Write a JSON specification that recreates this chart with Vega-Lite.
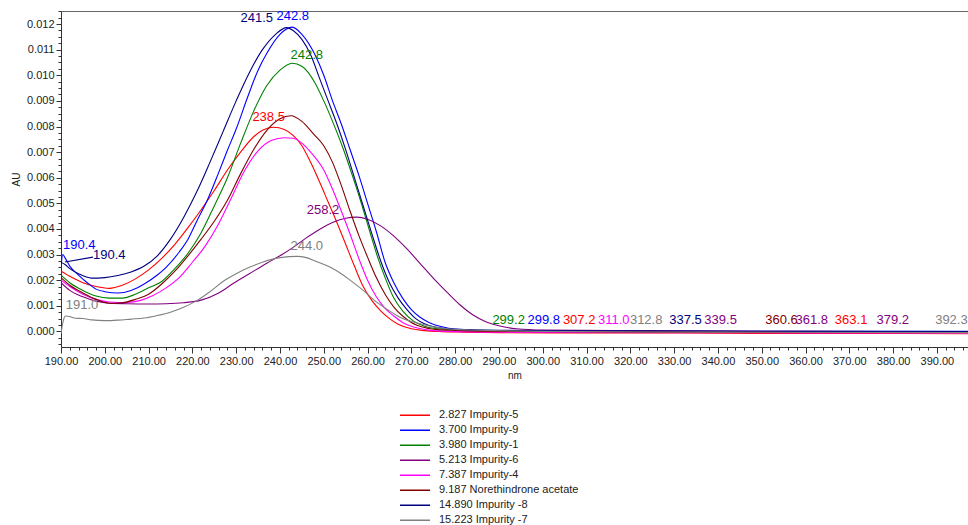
{
  "$schema": "https://vega.github.io/schema/vega-lite/v6.json",
  "width": 907,
  "height": 336,
  "autosize": {"type": "none"},
  "padding": {"left": 61, "top": 11, "right": 0, "bottom": 178},
  "background": "white",
  "config": {
    "view": {"stroke": null},
    "font": "Liberation Sans",
    "axis": {"labelFont": "Liberation Sans", "labelFontSize": 11, "labelColor": "#222", "tickColor": "#333", "domainColor": "#333", "titleFont": "Liberation Sans", "titleFontWeight": "normal", "titleFontSize": 10, "titleColor": "#222", "grid": false}
  },
  "datasets": {
    "spectra": [
      {"s":"2.827 Impurity-5","x":190,"y":0.00235},{"s":"2.827 Impurity-5","x":192,"y":0.00215},{"s":"2.827 Impurity-5","x":195,"y":0.0019},{"s":"2.827 Impurity-5","x":198,"y":0.00175},{"s":"2.827 Impurity-5","x":201,"y":0.00168},{"s":"2.827 Impurity-5","x":204,"y":0.0018},{"s":"2.827 Impurity-5","x":207,"y":0.00205},{"s":"2.827 Impurity-5","x":210,"y":0.0024},{"s":"2.827 Impurity-5","x":213,"y":0.00285},{"s":"2.827 Impurity-5","x":216,"y":0.0034},{"s":"2.827 Impurity-5","x":219,"y":0.00405},{"s":"2.827 Impurity-5","x":222,"y":0.00475},{"s":"2.827 Impurity-5","x":225,"y":0.0055},{"s":"2.827 Impurity-5","x":228,"y":0.0063},{"s":"2.827 Impurity-5","x":231,"y":0.007},{"s":"2.827 Impurity-5","x":234,"y":0.0076},{"s":"2.827 Impurity-5","x":236,"y":0.00785},{"s":"2.827 Impurity-5","x":238.5,"y":0.00797},{"s":"2.827 Impurity-5","x":241,"y":0.00788},{"s":"2.827 Impurity-5","x":243,"y":0.00765},{"s":"2.827 Impurity-5","x":245,"y":0.00725},{"s":"2.827 Impurity-5","x":247,"y":0.0066},{"s":"2.827 Impurity-5","x":249,"y":0.00585},{"s":"2.827 Impurity-5","x":251,"y":0.00505},{"s":"2.827 Impurity-5","x":253,"y":0.00425},{"s":"2.827 Impurity-5","x":255,"y":0.0034},{"s":"2.827 Impurity-5","x":257,"y":0.00255},{"s":"2.827 Impurity-5","x":259,"y":0.00175},{"s":"2.827 Impurity-5","x":261,"y":0.0012},{"s":"2.827 Impurity-5","x":263,"y":0.0008},{"s":"2.827 Impurity-5","x":265,"y":0.0005},{"s":"2.827 Impurity-5","x":267,"y":0.00028},{"s":"2.827 Impurity-5","x":270,"y":0.0001},{"s":"2.827 Impurity-5","x":273,"y":0.00003},{"s":"2.827 Impurity-5","x":277,"y":-0.00001},{"s":"2.827 Impurity-5","x":282,"y":-0.00003},{"s":"2.827 Impurity-5","x":290,"y":-0.00005},{"s":"2.827 Impurity-5","x":310,"y":-0.00006},{"s":"2.827 Impurity-5","x":330,"y":-0.00006},{"s":"2.827 Impurity-5","x":350,"y":-0.00008},{"s":"2.827 Impurity-5","x":370,"y":-0.00008},{"s":"2.827 Impurity-5","x":397.1,"y":-0.00009},
      {"s":"3.700 Impurity-9","x":190,"y":0.0025},{"s":"3.700 Impurity-9","x":190.4,"y":0.003},{"s":"3.700 Impurity-9","x":191,"y":0.00285},{"s":"3.700 Impurity-9","x":192,"y":0.00255},{"s":"3.700 Impurity-9","x":194,"y":0.0022},{"s":"3.700 Impurity-9","x":196,"y":0.0019},{"s":"3.700 Impurity-9","x":198,"y":0.00165},{"s":"3.700 Impurity-9","x":200,"y":0.00155},{"s":"3.700 Impurity-9","x":203,"y":0.0015},{"s":"3.700 Impurity-9","x":206,"y":0.0016},{"s":"3.700 Impurity-9","x":209,"y":0.00185},{"s":"3.700 Impurity-9","x":212,"y":0.0022},{"s":"3.700 Impurity-9","x":214,"y":0.0025},{"s":"3.700 Impurity-9","x":217,"y":0.0031},{"s":"3.700 Impurity-9","x":219,"y":0.0036},{"s":"3.700 Impurity-9","x":221,"y":0.0043},{"s":"3.700 Impurity-9","x":223.4,"y":0.00512},{"s":"3.700 Impurity-9","x":226,"y":0.0062},{"s":"3.700 Impurity-9","x":228,"y":0.00707},{"s":"3.700 Impurity-9","x":230,"y":0.0079},{"s":"3.700 Impurity-9","x":232.6,"y":0.00914},{"s":"3.700 Impurity-9","x":235,"y":0.0102},{"s":"3.700 Impurity-9","x":237,"y":0.01086},{"s":"3.700 Impurity-9","x":240,"y":0.0116},{"s":"3.700 Impurity-9","x":242.8,"y":0.01188},{"s":"3.700 Impurity-9","x":245,"y":0.0116},{"s":"3.700 Impurity-9","x":248,"y":0.0108},{"s":"3.700 Impurity-9","x":250,"y":0.01},{"s":"3.700 Impurity-9","x":252,"y":0.009},{"s":"3.700 Impurity-9","x":254,"y":0.0081},{"s":"3.700 Impurity-9","x":256,"y":0.0071},{"s":"3.700 Impurity-9","x":258,"y":0.0061},{"s":"3.700 Impurity-9","x":260,"y":0.005},{"s":"3.700 Impurity-9","x":262,"y":0.0039},{"s":"3.700 Impurity-9","x":264,"y":0.0027},{"s":"3.700 Impurity-9","x":266,"y":0.0019},{"s":"3.700 Impurity-9","x":268,"y":0.0013},{"s":"3.700 Impurity-9","x":270,"y":0.00085},{"s":"3.700 Impurity-9","x":272,"y":0.00055},{"s":"3.700 Impurity-9","x":274,"y":0.00035},{"s":"3.700 Impurity-9","x":277,"y":0.00018},{"s":"3.700 Impurity-9","x":280,"y":0.00009},{"s":"3.700 Impurity-9","x":285,"y":0.00005},{"s":"3.700 Impurity-9","x":300,"y":0.00002},{"s":"3.700 Impurity-9","x":330,"y":0.00001},{"s":"3.700 Impurity-9","x":360,"y":0},{"s":"3.700 Impurity-9","x":397.1,"y":0},
      {"s":"3.980 Impurity-1","x":190,"y":0.0022},{"s":"3.980 Impurity-1","x":192,"y":0.0019},{"s":"3.980 Impurity-1","x":195,"y":0.0016},{"s":"3.980 Impurity-1","x":198,"y":0.00138},{"s":"3.980 Impurity-1","x":201,"y":0.0013},{"s":"3.980 Impurity-1","x":204,"y":0.0013},{"s":"3.980 Impurity-1","x":207,"y":0.00145},{"s":"3.980 Impurity-1","x":210,"y":0.0017},{"s":"3.980 Impurity-1","x":213,"y":0.00195},{"s":"3.980 Impurity-1","x":216,"y":0.00245},{"s":"3.980 Impurity-1","x":219,"y":0.00305},{"s":"3.980 Impurity-1","x":222,"y":0.00385},{"s":"3.980 Impurity-1","x":225,"y":0.0049},{"s":"3.980 Impurity-1","x":228,"y":0.006},{"s":"3.980 Impurity-1","x":231,"y":0.00734},{"s":"3.980 Impurity-1","x":234,"y":0.0086},{"s":"3.980 Impurity-1","x":237,"y":0.0096},{"s":"3.980 Impurity-1","x":240,"y":0.0102},{"s":"3.980 Impurity-1","x":242.8,"y":0.01047},{"s":"3.980 Impurity-1","x":245,"y":0.01035},{"s":"3.980 Impurity-1","x":248,"y":0.0097},{"s":"3.980 Impurity-1","x":250,"y":0.009},{"s":"3.980 Impurity-1","x":252,"y":0.0082},{"s":"3.980 Impurity-1","x":254.5,"y":0.0071},{"s":"3.980 Impurity-1","x":256.5,"y":0.0061},{"s":"3.980 Impurity-1","x":258.4,"y":0.0051},{"s":"3.980 Impurity-1","x":260.5,"y":0.0039},{"s":"3.980 Impurity-1","x":262.3,"y":0.0029},{"s":"3.980 Impurity-1","x":264,"y":0.0021},{"s":"3.980 Impurity-1","x":266,"y":0.0013},{"s":"3.980 Impurity-1","x":268,"y":0.0008},{"s":"3.980 Impurity-1","x":270.5,"y":0.0004},{"s":"3.980 Impurity-1","x":273,"y":0.0002},{"s":"3.980 Impurity-1","x":276,"y":0.0001},{"s":"3.980 Impurity-1","x":280,"y":0.00006},{"s":"3.980 Impurity-1","x":290,"y":0.00003},{"s":"3.980 Impurity-1","x":300,"y":0},{"s":"3.980 Impurity-1","x":340,"y":-0.00001},{"s":"3.980 Impurity-1","x":397.1,"y":-0.00002},
      {"s":"5.213 Impurity-6","x":190,"y":0.0019},{"s":"5.213 Impurity-6","x":192,"y":0.0016},{"s":"5.213 Impurity-6","x":195,"y":0.00135},{"s":"5.213 Impurity-6","x":198,"y":0.00118},{"s":"5.213 Impurity-6","x":201,"y":0.0011},{"s":"5.213 Impurity-6","x":205,"y":0.00108},{"s":"5.213 Impurity-6","x":210,"y":0.00107},{"s":"5.213 Impurity-6","x":214,"y":0.00108},{"s":"5.213 Impurity-6","x":218,"y":0.00112},{"s":"5.213 Impurity-6","x":222,"y":0.00122},{"s":"5.213 Impurity-6","x":226,"y":0.0015},{"s":"5.213 Impurity-6","x":229.4,"y":0.00188},{"s":"5.213 Impurity-6","x":233,"y":0.00225},{"s":"5.213 Impurity-6","x":237,"y":0.00266},{"s":"5.213 Impurity-6","x":240,"y":0.00295},{"s":"5.213 Impurity-6","x":243,"y":0.00328},{"s":"5.213 Impurity-6","x":246,"y":0.00365},{"s":"5.213 Impurity-6","x":249,"y":0.00398},{"s":"5.213 Impurity-6","x":252,"y":0.00425},{"s":"5.213 Impurity-6","x":255,"y":0.00442},{"s":"5.213 Impurity-6","x":257.5,"y":0.00446},{"s":"5.213 Impurity-6","x":260,"y":0.00438},{"s":"5.213 Impurity-6","x":263,"y":0.00412},{"s":"5.213 Impurity-6","x":266,"y":0.00372},{"s":"5.213 Impurity-6","x":269,"y":0.00322},{"s":"5.213 Impurity-6","x":272,"y":0.00265},{"s":"5.213 Impurity-6","x":275,"y":0.00208},{"s":"5.213 Impurity-6","x":278,"y":0.00155},{"s":"5.213 Impurity-6","x":281,"y":0.00105},{"s":"5.213 Impurity-6","x":284,"y":0.00065},{"s":"5.213 Impurity-6","x":287,"y":0.00038},{"s":"5.213 Impurity-6","x":290,"y":0.00022},{"s":"5.213 Impurity-6","x":294,"y":0.0001},{"s":"5.213 Impurity-6","x":300,"y":0.00005},{"s":"5.213 Impurity-6","x":330,"y":0.00002},{"s":"5.213 Impurity-6","x":360,"y":0},{"s":"5.213 Impurity-6","x":397.1,"y":-0.00002},
      {"s":"7.387 Impurity-4","x":190,"y":0.002},{"s":"7.387 Impurity-4","x":192,"y":0.00175},{"s":"7.387 Impurity-4","x":195,"y":0.00145},{"s":"7.387 Impurity-4","x":198,"y":0.00125},{"s":"7.387 Impurity-4","x":201,"y":0.00115},{"s":"7.387 Impurity-4","x":205,"y":0.00113},{"s":"7.387 Impurity-4","x":208,"y":0.0012},{"s":"7.387 Impurity-4","x":211,"y":0.0014},{"s":"7.387 Impurity-4","x":214,"y":0.0017},{"s":"7.387 Impurity-4","x":217,"y":0.0021},{"s":"7.387 Impurity-4","x":220,"y":0.0027},{"s":"7.387 Impurity-4","x":223,"y":0.00335},{"s":"7.387 Impurity-4","x":226,"y":0.0042},{"s":"7.387 Impurity-4","x":229,"y":0.00525},{"s":"7.387 Impurity-4","x":232,"y":0.0063},{"s":"7.387 Impurity-4","x":235,"y":0.00705},{"s":"7.387 Impurity-4","x":238,"y":0.00745},{"s":"7.387 Impurity-4","x":241,"y":0.00756},{"s":"7.387 Impurity-4","x":243,"y":0.00754},{"s":"7.387 Impurity-4","x":245,"y":0.00735},{"s":"7.387 Impurity-4","x":247,"y":0.007},{"s":"7.387 Impurity-4","x":250,"y":0.0063},{"s":"7.387 Impurity-4","x":252,"y":0.00555},{"s":"7.387 Impurity-4","x":254,"y":0.0047},{"s":"7.387 Impurity-4","x":256,"y":0.0038},{"s":"7.387 Impurity-4","x":258,"y":0.00285},{"s":"7.387 Impurity-4","x":260,"y":0.002},{"s":"7.387 Impurity-4","x":262,"y":0.00135},{"s":"7.387 Impurity-4","x":264,"y":0.0009},{"s":"7.387 Impurity-4","x":266,"y":0.0006},{"s":"7.387 Impurity-4","x":268,"y":0.00035},{"s":"7.387 Impurity-4","x":271,"y":0.00015},{"s":"7.387 Impurity-4","x":274,"y":0.00005},{"s":"7.387 Impurity-4","x":278,"y":0},{"s":"7.387 Impurity-4","x":290,"y":-0.00003},{"s":"7.387 Impurity-4","x":330,"y":-0.00005},{"s":"7.387 Impurity-4","x":397.1,"y":-0.00006},
      {"s":"9.187 Norethindrone acetate","x":190,"y":0.0021},{"s":"9.187 Norethindrone acetate","x":192,"y":0.0018},{"s":"9.187 Norethindrone acetate","x":195,"y":0.0015},{"s":"9.187 Norethindrone acetate","x":198,"y":0.00125},{"s":"9.187 Norethindrone acetate","x":201,"y":0.0011},{"s":"9.187 Norethindrone acetate","x":204,"y":0.00112},{"s":"9.187 Norethindrone acetate","x":207,"y":0.00125},{"s":"9.187 Norethindrone acetate","x":210,"y":0.00145},{"s":"9.187 Norethindrone acetate","x":213,"y":0.00185},{"s":"9.187 Norethindrone acetate","x":216,"y":0.00235},{"s":"9.187 Norethindrone acetate","x":219,"y":0.00295},{"s":"9.187 Norethindrone acetate","x":222,"y":0.0036},{"s":"9.187 Norethindrone acetate","x":225,"y":0.0043},{"s":"9.187 Norethindrone acetate","x":228,"y":0.00512},{"s":"9.187 Norethindrone acetate","x":231,"y":0.00615},{"s":"9.187 Norethindrone acetate","x":234,"y":0.0071},{"s":"9.187 Norethindrone acetate","x":237,"y":0.00785},{"s":"9.187 Norethindrone acetate","x":240,"y":0.0083},{"s":"9.187 Norethindrone acetate","x":242.5,"y":0.00842},{"s":"9.187 Norethindrone acetate","x":245,"y":0.0082},{"s":"9.187 Norethindrone acetate","x":247.7,"y":0.0077},{"s":"9.187 Norethindrone acetate","x":250,"y":0.00725},{"s":"9.187 Norethindrone acetate","x":252,"y":0.0066},{"s":"9.187 Norethindrone acetate","x":254,"y":0.0057},{"s":"9.187 Norethindrone acetate","x":256,"y":0.0047},{"s":"9.187 Norethindrone acetate","x":258,"y":0.00375},{"s":"9.187 Norethindrone acetate","x":260,"y":0.0029},{"s":"9.187 Norethindrone acetate","x":262,"y":0.0021},{"s":"9.187 Norethindrone acetate","x":264,"y":0.00145},{"s":"9.187 Norethindrone acetate","x":266,"y":0.00095},{"s":"9.187 Norethindrone acetate","x":268,"y":0.0006},{"s":"9.187 Norethindrone acetate","x":270,"y":0.00035},{"s":"9.187 Norethindrone acetate","x":273,"y":0.00015},{"s":"9.187 Norethindrone acetate","x":276,"y":0.00007},{"s":"9.187 Norethindrone acetate","x":280,"y":0.00004},{"s":"9.187 Norethindrone acetate","x":290,"y":0},{"s":"9.187 Norethindrone acetate","x":330,"y":-0.00003},{"s":"9.187 Norethindrone acetate","x":397.1,"y":-0.00004},
      {"s":"14.890 Impurity -8","x":190,"y":0.0027},{"s":"14.890 Impurity -8","x":191,"y":0.0026},{"s":"14.890 Impurity -8","x":192,"y":0.00245},{"s":"14.890 Impurity -8","x":194,"y":0.00225},{"s":"14.890 Impurity -8","x":197,"y":0.00208},{"s":"14.890 Impurity -8","x":200,"y":0.0021},{"s":"14.890 Impurity -8","x":203,"y":0.00218},{"s":"14.890 Impurity -8","x":206,"y":0.00232},{"s":"14.890 Impurity -8","x":209,"y":0.00255},{"s":"14.890 Impurity -8","x":212,"y":0.00295},{"s":"14.890 Impurity -8","x":215,"y":0.0036},{"s":"14.890 Impurity -8","x":218,"y":0.00445},{"s":"14.890 Impurity -8","x":221,"y":0.00545},{"s":"14.890 Impurity -8","x":224,"y":0.0066},{"s":"14.890 Impurity -8","x":227,"y":0.0078},{"s":"14.890 Impurity -8","x":230,"y":0.009},{"s":"14.890 Impurity -8","x":233,"y":0.0101},{"s":"14.890 Impurity -8","x":236,"y":0.011},{"s":"14.890 Impurity -8","x":239,"y":0.0116},{"s":"14.890 Impurity -8","x":241.5,"y":0.01186},{"s":"14.890 Impurity -8","x":243,"y":0.01175},{"s":"14.890 Impurity -8","x":245,"y":0.0114},{"s":"14.890 Impurity -8","x":247,"y":0.0108},{"s":"14.890 Impurity -8","x":249,"y":0.0099},{"s":"14.890 Impurity -8","x":251,"y":0.009},{"s":"14.890 Impurity -8","x":253,"y":0.0081},{"s":"14.890 Impurity -8","x":255,"y":0.0071},{"s":"14.890 Impurity -8","x":257,"y":0.006},{"s":"14.890 Impurity -8","x":259,"y":0.0049},{"s":"14.890 Impurity -8","x":261,"y":0.0038},{"s":"14.890 Impurity -8","x":263,"y":0.00275},{"s":"14.890 Impurity -8","x":265,"y":0.0019},{"s":"14.890 Impurity -8","x":267,"y":0.0013},{"s":"14.890 Impurity -8","x":269,"y":0.00085},{"s":"14.890 Impurity -8","x":271,"y":0.0005},{"s":"14.890 Impurity -8","x":273,"y":0.0003},{"s":"14.890 Impurity -8","x":276,"y":0.00015},{"s":"14.890 Impurity -8","x":280,"y":0.00008},{"s":"14.890 Impurity -8","x":290,"y":0.00004},{"s":"14.890 Impurity -8","x":320,"y":0.00002},{"s":"14.890 Impurity -8","x":360,"y":0},{"s":"14.890 Impurity -8","x":397.1,"y":-0.00001},
      {"s":"15.223 Impurity -7","x":190,"y":-0.00008},{"s":"15.223 Impurity -7","x":190.5,"y":0.0004},{"s":"15.223 Impurity -7","x":191,"y":0.0006},{"s":"15.223 Impurity -7","x":192,"y":0.00058},{"s":"15.223 Impurity -7","x":193,"y":0.00052},{"s":"15.223 Impurity -7","x":195,"y":0.0005},{"s":"15.223 Impurity -7","x":197,"y":0.00045},{"s":"15.223 Impurity -7","x":200,"y":0.00042},{"s":"15.223 Impurity -7","x":203,"y":0.00044},{"s":"15.223 Impurity -7","x":206,"y":0.00048},{"s":"15.223 Impurity -7","x":209,"y":0.00052},{"s":"15.223 Impurity -7","x":212,"y":0.00062},{"s":"15.223 Impurity -7","x":215,"y":0.00075},{"s":"15.223 Impurity -7","x":218,"y":0.00094},{"s":"15.223 Impurity -7","x":221,"y":0.0012},{"s":"15.223 Impurity -7","x":224,"y":0.00155},{"s":"15.223 Impurity -7","x":227,"y":0.00195},{"s":"15.223 Impurity -7","x":230,"y":0.00225},{"s":"15.223 Impurity -7","x":233,"y":0.0025},{"s":"15.223 Impurity -7","x":236,"y":0.0027},{"s":"15.223 Impurity -7","x":239,"y":0.00285},{"s":"15.223 Impurity -7","x":242,"y":0.00292},{"s":"15.223 Impurity -7","x":244,"y":0.00293},{"s":"15.223 Impurity -7","x":246,"y":0.00288},{"s":"15.223 Impurity -7","x":248,"y":0.00275},{"s":"15.223 Impurity -7","x":251.5,"y":0.0025},{"s":"15.223 Impurity -7","x":254,"y":0.00225},{"s":"15.223 Impurity -7","x":256,"y":0.002},{"s":"15.223 Impurity -7","x":259,"y":0.0016},{"s":"15.223 Impurity -7","x":262,"y":0.00115},{"s":"15.223 Impurity -7","x":265,"y":0.0008},{"s":"15.223 Impurity -7","x":268,"y":0.0005},{"s":"15.223 Impurity -7","x":272,"y":0.0003},{"s":"15.223 Impurity -7","x":276,"y":0.00015},{"s":"15.223 Impurity -7","x":280,"y":0.00008},{"s":"15.223 Impurity -7","x":285,"y":0.00005},{"s":"15.223 Impurity -7","x":300,"y":0},{"s":"15.223 Impurity -7","x":340,"y":-0.00003},{"s":"15.223 Impurity -7","x":397.1,"y":-0.00005}
    ],
    "peaks": [
      {"s":"3.700 Impurity-9","x":190.46,"y":0.00336,"t":"190.4"},
      {"s":"14.890 Impurity -8","x":197.3,"y":0.00297,"t":"190.4"},
      {"s":"15.223 Impurity -7","x":191.1,"y":0.00102,"t":"191.0"},
      {"s":"14.890 Impurity -8","x":231.0,"y":0.01223,"t":"241.5"},
      {"s":"3.700 Impurity-9","x":239.2,"y":0.0123,"t":"242.8"},
      {"s":"3.980 Impurity-1","x":242.4,"y":0.01078,"t":"242.8"},
      {"s":"2.827 Impurity-5","x":233.7,"y":0.00836,"t":"238.5"},
      {"s":"5.213 Impurity-6","x":246.1,"y":0.00473,"t":"258.2"},
      {"s":"15.223 Impurity -7","x":242.4,"y":0.00332,"t":"244.0"},
      {"s":"3.980 Impurity-1","x":288.5,"y":0.00043,"t":"299.2"},
      {"s":"3.700 Impurity-9","x":296.5,"y":0.00043,"t":"299.8"},
      {"s":"2.827 Impurity-5","x":304.6,"y":0.00043,"t":"307.2"},
      {"s":"7.387 Impurity-4","x":312.6,"y":0.00043,"t":"311.0"},
      {"s":"15.223 Impurity -7","x":319.9,"y":0.00043,"t":"312.8"},
      {"s":"14.890 Impurity -8","x":328.9,"y":0.00043,"t":"337.5"},
      {"s":"5.213 Impurity-6","x":336.9,"y":0.00043,"t":"339.5"},
      {"s":"9.187 Norethindrone acetate","x":350.8,"y":0.00043,"t":"360.6"},
      {"s":"5.213 Impurity-6","x":357.7,"y":0.00043,"t":"361.8"},
      {"s":"2.827 Impurity-5","x":366.7,"y":0.00043,"t":"363.1"},
      {"s":"5.213 Impurity-6","x":376.2,"y":0.00043,"t":"379.2"},
      {"s":"15.223 Impurity -7","x":389.6,"y":0.00043,"t":"392.3"}
    ],
    "leaders": [
      {"s":"14.890 Impurity -8","x":190.9,"y":0.00271,"x2":197.3,"y2":0.0029}
    ]
  },
  "layer": [
    {
      "data": {"name": "spectra"},
      "mark": {"type": "line", "strokeWidth": 1.1, "interpolate": "monotone", "clip": true},
      "encoding": {
        "x": {"field": "x", "type": "quantitative", "scale": {"domain": [190, 397.1], "nice": false, "zero": false},
              "axis": {"orient": "bottom", "values": [190,200,210,220,230,240,250,260,270,280,290,300,310,320,330,340,350,360,370,380,390], "format": ".2f", "tickSize": 6, "labelPadding": 2, "labelOverlap": false, "labelFlush": false, "title": "nm", "titlePadding": 4}},
        "y": {"field": "y", "type": "quantitative", "scale": {"domain": [-0.00061, 0.01251], "nice": false, "zero": false},
              "axis": {"orient": "left", "values": [0,0.001,0.002,0.003,0.004,0.005,0.006,0.007,0.008,0.009,0.01,0.011,0.012], "format": ".3f", "tickSize": 5, "labelPadding": 2, "labelOverlap": false, "title": "AU", "titlePadding": 5}},
        "color": {"field": "s", "type": "nominal",
                  "scale": {"domain": ["2.827 Impurity-5","3.700 Impurity-9","3.980 Impurity-1","5.213 Impurity-6","7.387 Impurity-4","9.187 Norethindrone acetate","14.890 Impurity -8","15.223 Impurity -7"],
                            "range": ["#ff0000","#0000ff","#008000","#800080","#ff00ff","#800000","#000080","#808080"]},
                  "legend": {"orient": "none", "legendX": 338, "legendY": 397, "title": null, "symbolType": "stroke", "symbolSize": 900, "symbolStrokeWidth": 1.5, "labelFont": "Liberation Sans", "labelFontSize": 11, "labelColor": "#222", "labelOffset": 8, "rowPadding": 0, "clipHeight": 14.6, "labelLimit": 300}}
      }
    },
    {
      "data": {"name": "peaks"},
      "mark": {"type": "text", "align": "left", "baseline": "middle", "fontSize": 13, "font": "Liberation Sans"},
      "encoding": {
        "x": {"field": "x", "type": "quantitative", "scale": {"domain": [190, 397.1], "nice": false, "zero": false},
              "axis": {"orient": "bottom", "values": [192,194,196,198,202,204,206,208,212,214,216,218,222,224,226,228,232,234,236,238,242,244,246,248,252,254,256,258,262,264,266,268,272,274,276,278,282,284,286,288,292,294,296,298,302,304,306,308,312,314,316,318,322,324,326,328,332,334,336,338,342,344,346,348,352,354,356,358,362,364,366,368,372,374,376,378,382,384,386,388,392,394,396], "tickSize": 3, "labels": false, "domain": false, "title": null}},
        "y": {"field": "y", "type": "quantitative", "scale": {"domain": [-0.00061, 0.01251], "nice": false, "zero": false},
              "axis": {"orient": "left", "values": [-0.0005,-0.00025,0.00025,0.0005,0.00075,0.00125,0.0015,0.00175,0.00225,0.0025,0.00275,0.00325,0.0035,0.00375,0.00425,0.0045,0.00475,0.00525,0.0055,0.00575,0.00625,0.0065,0.00675,0.00725,0.0075,0.00775,0.00825,0.0085,0.00875,0.00925,0.0095,0.00975,0.01025,0.0105,0.01075,0.01125,0.0115,0.01175,0.01225,0.0125], "tickSize": 3, "labels": false, "domain": false, "title": null}},
        "text": {"field": "t", "type": "nominal"},
        "color": {"field": "s", "type": "nominal"}
      }
    },
    {
      "data": {"name": "peaks"},
      "mark": {"type": "text", "opacity": 0},
      "encoding": {
        "x": {"field": "x", "type": "quantitative", "scale": {"domain": [190, 397.1], "nice": false, "zero": false},
              "axis": {"orient": "top", "ticks": false, "labels": false, "domain": true, "domainColor": "#666", "title": null}},
        "y": {"field": "y", "type": "quantitative", "scale": {"domain": [-0.00061, 0.01251], "nice": false, "zero": false}, "axis": null},
        "text": {"field": "t", "type": "nominal"}
      }
    },
    {
      "data": {"name": "leaders"},
      "mark": {"type": "rule", "strokeWidth": 1.1},
      "encoding": {
        "x": {"field": "x", "type": "quantitative", "scale": {"domain": [190, 397.1], "nice": false, "zero": false}, "axis": null},
        "x2": {"field": "x2"},
        "y": {"field": "y", "type": "quantitative", "scale": {"domain": [-0.00061, 0.01251], "nice": false, "zero": false}, "axis": null},
        "y2": {"field": "y2"},
        "color": {"field": "s", "type": "nominal"}
      }
    }
  ],
  "resolve": {"axis": {"x": "independent", "y": "independent"}}
}
